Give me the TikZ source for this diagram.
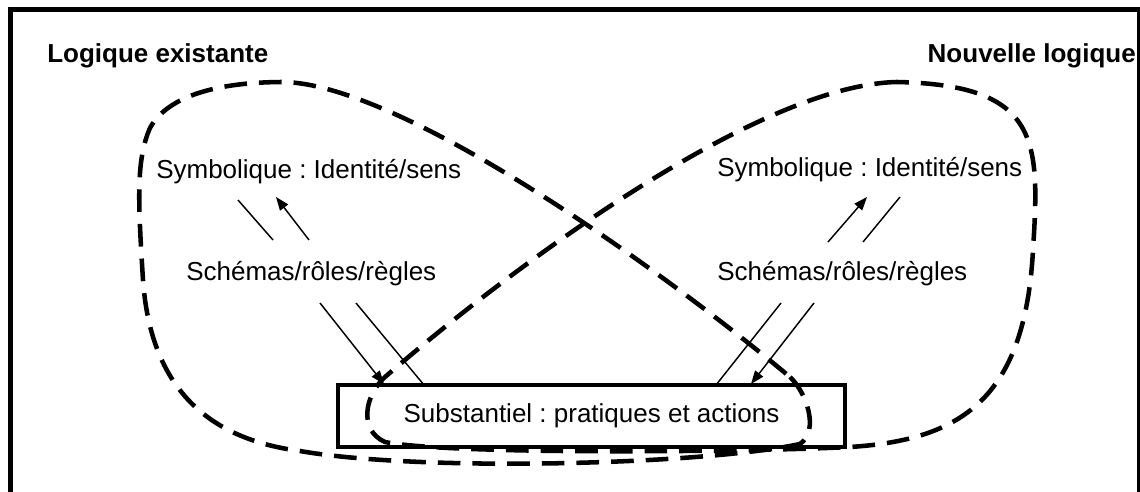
\documentclass[tikz,border=0pt]{standalone}
\usepackage{fontspec}
\setmainfont{Liberation Sans}
\usetikzlibrary{arrows.meta}
\frenchspacing

\tikzset{
  loopline/.style={line width=3.4pt, dash pattern=on 17pt off 9pt},
  flow/.style={line width=1.1pt},
  flowarrow/.style={line width=1.1pt, -{Triangle[length=10pt,width=7.5pt]}},
  lbl/.style={inner sep=0pt, font=\fontsize{19.5}{23}\selectfont},
  title/.style={inner sep=0pt, font=\fontsize{19.5}{23}\selectfont\bfseries},
}

\begin{document}
\begin{tikzpicture}[x=0.75pt,y=0.75pt,yscale=-1,xscale=1]
\useasboundingbox (0,0) rectangle (1140,492);

%Shape: outer frame
\draw [line width=3.75pt] (10,10) rectangle (1139,530);

%Shape: substantial level box
\node (subst) [draw, line width=3pt, minimum width=380pt, minimum height=46.5pt, font=\fontsize{19.5}{23}\selectfont] at (591.5,416) {Substantiel : pratiques et actions};

% Text Node
\node (existante) [title, anchor=base west] at (47,63) {Logique existante};
% Text Node
\node (nouvelle) [title, anchor=base east] at (1136,63) {Nouvelle logique};
% Text Node
\node (symbL) [lbl, anchor=base west] at (156,178) {Symbolique : Identité/sens};
% Text Node
\node (symbR) [lbl, anchor=base west] at (717,176) {Symbolique : Identité/sens};
% Text Node
\node (schemL) [lbl, anchor=base west] at (186,280) {Schémas/rôles/règles};
% Text Node
\node (schemR) [lbl, anchor=base west] at (717,280) {Schémas/rôles/règles};

%Curve Lines: existing logic loop
\draw [loopline] (790,377) .. controls (806,392) and (820,430) .. (800,444)
  .. controls (700,465) and (420,472) .. (300,451)
  .. controls (200,438) and (150,380) .. (143,280)
  .. controls (138,200) and (136,160) .. (150,128)
  .. controls (168,95) and (220,82) .. (284,82)
  .. controls (400,85) and (650,260) .. cycle;
%Curve Lines: new logic loop
\draw [loopline] (897,82) .. controls (760,85) and (520,260) .. (385,377)
  .. controls (365,395) and (358,430) .. (385,442)
  .. controls (450,455) and (750,452) .. (850,447)
  .. controls (960,440) and (1025,400) .. (1033,250)
  .. controls (1040,140) and (1040,85) .. cycle;

%Straight Lines: left side, upper pair
\coordinate (uL1a) at (238,200);
\coordinate (uL1b) at (273,240);
\coordinate (uL2a) at (309,240);
\coordinate (uL2b) at (276,197);
\draw [flow] (uL1a) -- (uL1b);
\draw [flowarrow] (uL2a) -- (uL2b);

%Straight Lines: right side, upper pair
\coordinate (uR1a) at (828,242);
\coordinate (uR1b) at (867,197);
\coordinate (uR2a) at (863,242);
\coordinate (uR2b) at (900,197);
\draw [flowarrow] (uR1a) -- (uR1b);
\draw [flow] (uR2a) -- (uR2b);

%Straight Lines: left side, lower pair
\coordinate (lL1a) at (320,303);
\coordinate (lL1b) at (384,384);
\coordinate (lL2a) at (356,303);
\coordinate (lL2b) at (424,385);
\draw [flowarrow] (lL1a) -- (lL1b);
\draw [flow] (lL2a) -- (lL2b);

%Straight Lines: right side, lower pair
\coordinate (lR1a) at (781,303);
\coordinate (lR1b) at (716,385);
\coordinate (lR2a) at (814,303);
\coordinate (lR2b) at (751,384);
\draw [flow] (lR1a) -- (lR1b);
\draw [flowarrow] (lR2a) -- (lR2b);

\end{tikzpicture}
\end{document}
